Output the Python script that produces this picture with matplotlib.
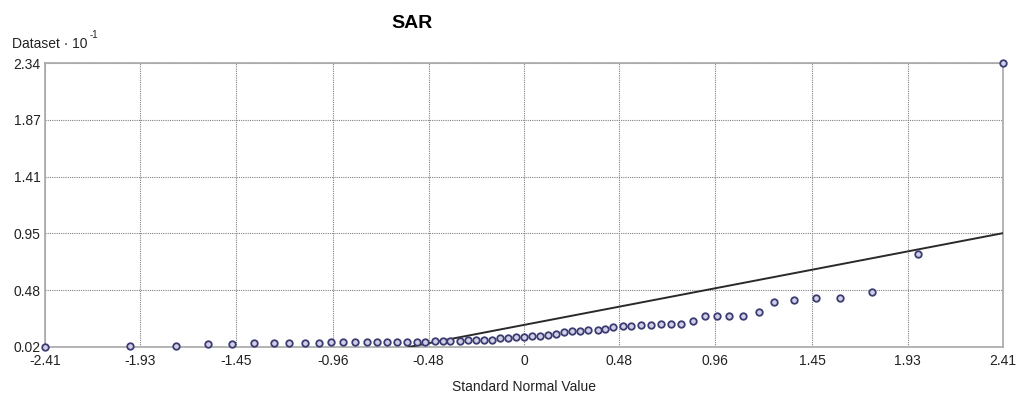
import numpy as np
import matplotlib
matplotlib.use("Agg")
import matplotlib.pyplot as plt

plt.rcParams['font.family'] = ['Liberation Sans', 'DejaVu Sans']

# standard normal value of each sample point
snv = [-2.41, -1.98, -1.75, -1.59, -1.47, -1.36, -1.26, -1.18, -1.10, -1.03,
       -0.97, -0.91, -0.85, -0.79, -0.74, -0.69, -0.64, -0.59, -0.54, -0.50,
       -0.45, -0.41, -0.37, -0.32, -0.28, -0.24, -0.20, -0.16, -0.12, -0.08,
       -0.04, 0.00, 0.04, 0.08, 0.12, 0.16, 0.20, 0.24, 0.28, 0.32,
       0.37, 0.41, 0.45, 0.50, 0.54, 0.59, 0.64, 0.69, 0.74, 0.79,
       0.85, 0.91, 0.97, 1.03, 1.10, 1.18, 1.26, 1.36, 1.47, 1.59,
       1.75, 1.98, 2.41]
# dataset values (x 10^-1)
dataset = [0.02, 0.03, 0.03, 0.045, 0.045, 0.05, 0.05, 0.05, 0.05, 0.05,
           0.06, 0.06, 0.06, 0.06, 0.06, 0.06, 0.06, 0.06, 0.06, 0.06,
           0.07, 0.07, 0.07, 0.07, 0.08, 0.08, 0.08, 0.08, 0.09, 0.09,
           0.10, 0.10, 0.11, 0.11, 0.12, 0.13, 0.14, 0.15, 0.15, 0.16,
           0.16, 0.17, 0.18, 0.19, 0.19, 0.20, 0.20, 0.21, 0.21, 0.21,
           0.23, 0.27, 0.27, 0.27, 0.27, 0.31, 0.39, 0.40, 0.42, 0.42,
           0.47, 0.78, 2.34]

# reference line end points
ref_x = [-0.58, 2.41]
ref_y = [0.02, 0.95]

xticks = [-2.41, -1.93, -1.45, -0.96, -0.48, 0, 0.48, 0.96, 1.45, 1.93, 2.41]
xlabels = ['-2.41', '-1.93', '-1.45', '-0.96', '-0.48', '0', '0.48', '0.96', '1.45', '1.93', '2.41']
ylabels = ['0.02', '0.48', '0.95', '1.41', '1.87', '2.34']

fig = plt.figure(figsize=(10.26, 4.01), dpi=100)
ax = fig.add_axes([45/1026, 54/401, 958/1026, 284/401])

ymin, ymax = 0.02, 2.34
ax.set_xlim(-2.41, 2.41)
ax.set_ylim(ymin, ymax)

ax.plot(ref_x, ref_y, color='#2a2a2a', lw=1.4, zorder=3)
ax.scatter(snv, dataset, s=22, facecolors='#d0d0e8', edgecolors='#3c3c72',
           linewidths=1.3, zorder=4, clip_on=False)

ax.set_xticks(xticks)
ax.set_xticklabels(xlabels)
ax.set_yticks(np.linspace(ymin, ymax, 6))
ax.set_yticklabels(ylabels)
ax.tick_params(length=0, labelsize=10, colors='#222222', pad=5)
ax.tick_params(axis='y', pad=3)

ax.grid(True, color='#808080', ls=(0, (1, 1)), lw=0.8)
ax.set_axisbelow(True)
for sp in ax.spines.values():
    sp.set_color('#a8a8a8')
    sp.set_linewidth(1.2)

ax.set_xlabel('Standard Normal Value', fontsize=10, color='#222222', labelpad=9)

fig.text(412/1026, 1 - 23/401, 'SAR', fontsize=14, fontweight='bold',
         ha='center', va='center')
ylab = fig.text(12/1026, 1 - 44/401, 'Dataset · 10', fontsize=10, ha='left',
                va='center', color='#222222')
fig.canvas.draw()
bb = ylab.get_window_extent()
fig.text((bb.x1 + 2) / 1026, 1 - 35/401, '-1', fontsize=7, ha='left',
         va='center', color='#222222')

fig.savefig('out.png', dpi=100)
